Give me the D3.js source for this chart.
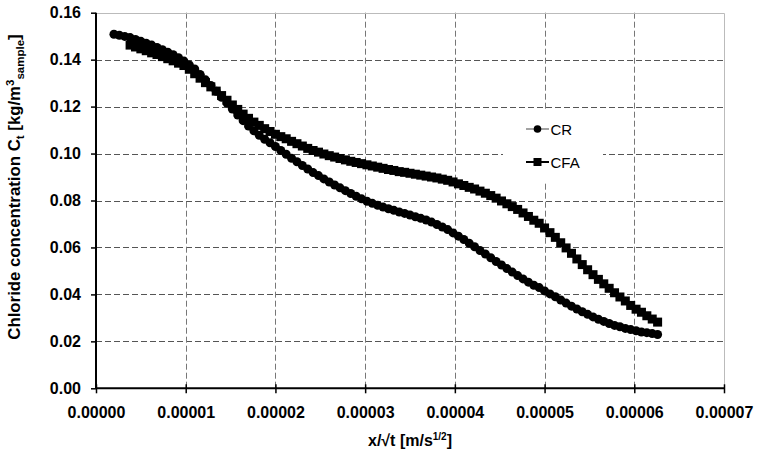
<!DOCTYPE html>
<html lang="en">
  <head>
    <meta charset="utf-8">
    <title>Chloride concentration</title>
    <style>
      body { margin: 0; background: #fff; }
      text { font-family: Arial, "Liberation Sans", sans-serif; }
    </style>
  </head>
  <body>
    <svg id="chart" width="758" height="453"></svg>
  </body>
  <script src="https://cdn.jsdelivr.net/npm/d3@7/dist/d3.min.js"></script>
  <script type="text/javascript">

    // x values are in units of 1e-6 m/s^1/2
    var crX = [2.0, 2.6, 3.2, 3.8, 4.4, 5.0, 5.6, 6.2, 6.8, 7.4, 8.0, 8.6, 9.2, 9.8, 10.4, 11.0, 11.6, 12.2, 12.8, 13.4,
      14.0, 14.6, 15.2, 15.8, 16.4, 17.0, 17.6, 18.2, 18.8, 19.4, 20.0, 20.6, 21.2, 21.8, 22.4, 23.0, 23.6, 24.2, 24.8, 25.4,
      26.0, 26.6, 27.2, 27.8, 28.4, 29.0, 29.6, 30.2, 30.8, 31.4, 32.0, 32.6, 33.2, 33.8, 34.4, 35.0, 35.6, 36.2, 36.8, 37.4,
      38.0, 38.6, 39.2, 39.8, 40.4, 41.0, 41.6, 42.2, 42.8, 43.4, 44.0, 44.6, 45.2, 45.8, 46.4, 47.0, 47.6, 48.2, 48.8, 49.4,
      50.0, 50.6, 51.2, 51.8, 52.4, 53.0, 53.6, 54.2, 54.8, 55.4, 56.0, 56.6, 57.2, 57.8, 58.4, 59.0, 59.6, 60.2, 60.8, 61.4,
      62.0, 62.6];
    var crY = [0.1508, 0.1504, 0.1499, 0.1494, 0.1486, 0.1478, 0.1470, 0.1462, 0.1452, 0.1442, 0.1432, 0.1421, 0.1408, 0.1394, 0.1377, 0.1360, 0.1337, 0.1314, 0.1290, 0.1265,
      0.1240, 0.1215, 0.1190, 0.1164, 0.1140, 0.1117, 0.1097, 0.1078, 0.1061, 0.1046, 0.1030, 0.1013, 0.0997, 0.0980, 0.0965, 0.0949, 0.0934, 0.0919, 0.0906, 0.0892,
      0.0879, 0.0866, 0.0854, 0.0842, 0.0830, 0.0818, 0.0807, 0.0797, 0.0788, 0.0780, 0.0772, 0.0765, 0.0758, 0.0751, 0.0745, 0.0738, 0.0731, 0.0724, 0.0717, 0.0708,
      0.0698, 0.0687, 0.0676, 0.0662, 0.0648, 0.0634, 0.0618, 0.0603, 0.0587, 0.0572, 0.0556, 0.0540, 0.0525, 0.0510, 0.0495, 0.0480, 0.0466, 0.0452, 0.0439, 0.0429,
      0.0415, 0.0402, 0.0390, 0.0376, 0.0363, 0.0350, 0.0338, 0.0326, 0.0315, 0.0304, 0.0294, 0.0285, 0.0276, 0.0268, 0.0262, 0.0255, 0.0250, 0.0245, 0.0240, 0.0237,
      0.0233, 0.0229];

    var cfaX = [3.8, 4.4, 5.0, 5.6, 6.2, 6.8, 7.4, 8.0, 8.6, 9.2, 9.8, 10.4, 11.0, 11.6, 12.2, 12.8, 13.4,
      14.0, 14.6, 15.2, 15.8, 16.4, 17.0, 17.6, 18.2, 18.8, 19.4, 20.0, 20.6, 21.2, 21.8, 22.4, 23.0, 23.6, 24.2, 24.8, 25.4,
      26.0, 26.6, 27.2, 27.8, 28.4, 29.0, 29.6, 30.2, 30.8, 31.4, 32.0, 32.6, 33.2, 33.8, 34.4, 35.0, 35.6, 36.2, 36.8, 37.4,
      38.0, 38.6, 39.2, 39.8, 40.4, 41.0, 41.6, 42.2, 42.8, 43.4, 44.0, 44.6, 45.2, 45.8, 46.4, 47.0, 47.6, 48.2, 48.8, 49.4,
      50.0, 50.6, 51.2, 51.8, 52.4, 53.0, 53.6, 54.2, 54.8, 55.4, 56.0, 56.6, 57.2, 57.8, 58.4, 59.0, 59.6, 60.2, 60.8, 61.4,
      62.0, 62.6];
    var cfaY = [0.1462, 0.1454, 0.1446, 0.1438, 0.1429, 0.1422, 0.1413, 0.1404, 0.1395, 0.1385, 0.1375, 0.1359, 0.1340, 0.1321, 0.1302, 0.1284, 0.1266,
      0.1247, 0.1227, 0.1207, 0.1188, 0.1168, 0.1150, 0.1134, 0.1120, 0.1106, 0.1094, 0.1082, 0.1072, 0.1063, 0.1052, 0.1042, 0.1032, 0.1022, 0.1013, 0.1006, 0.0998,
      0.0991, 0.0985, 0.0979, 0.0973, 0.0967, 0.0962, 0.0957, 0.0952, 0.0947, 0.0942, 0.0937, 0.0932, 0.0928, 0.0923, 0.0920, 0.0916, 0.0912, 0.0908, 0.0904, 0.0900,
      0.0896, 0.0891, 0.0886, 0.0879, 0.0871, 0.0864, 0.0856, 0.0849, 0.0840, 0.0831, 0.0821, 0.0810, 0.0798, 0.0786, 0.0774, 0.0762, 0.0747, 0.0732, 0.0716, 0.0703,
      0.0683, 0.0663, 0.0643, 0.0620, 0.0598, 0.0575, 0.0551, 0.0527, 0.0505, 0.0484, 0.0464, 0.0445, 0.0426, 0.0407, 0.0389, 0.0372, 0.0353, 0.0337, 0.0324, 0.0309,
      0.0295, 0.0282];

    var xTicks = [0, 0.00001, 0.00002, 0.00003, 0.00004, 0.00005, 0.00006, 0.00007];
    var yTicks = [0, 0.02, 0.04, 0.06, 0.08, 0.10, 0.12, 0.14, 0.16];
    var seriesNames = ['CR', 'CFA'];

    var svg = d3.select('#chart');
    // plot box (top/left etc. clash with window globals, so prefixed)
    var pLeft = 96, pRight = 724, pTop = 12.7, pBottom = 388.3;

    var x = d3.scaleLinear().domain([0, 0.00007]).range([pLeft, pRight]);
    var y = d3.scaleLinear().domain([0, 0.16]).range([pBottom, pTop]);

    function toPoints(xs, ys) {
      return xs.map(function(v, i) { return [v * 1e-6, ys[i]]; });
    }
    var cr = toPoints(crX, crY);
    var cfa = toPoints(cfaX, cfaY);

    // grid
    var grid = svg.append('g');
    grid.selectAll('line.h').data(yTicks.slice(1, -1)).enter().append('line')
      .attr('x1', pLeft).attr('x2', pRight)
      .attr('y1', function(d) { return Math.round(y(d)) + 0.5; })
      .attr('y2', function(d) { return Math.round(y(d)) + 0.5; })
      .attr('stroke', '#555').attr('stroke-dasharray', '6,3');
    grid.selectAll('line.v').data(xTicks.slice(1, -1)).enter().append('line')
      .attr('y1', pTop).attr('y2', pBottom)
      .attr('x1', function(d) { return Math.round(x(d)) + 0.5; })
      .attr('x2', function(d) { return Math.round(x(d)) + 0.5; })
      .attr('stroke', '#777').attr('stroke-dasharray', '6,3');

    // plot border top / right
    svg.append('path')
      .attr('d', 'M' + pLeft + ',' + (Math.round(pTop) + 0.5) + 'H' + (pRight + 0.5) + 'V' + pBottom)
      .attr('fill', 'none').attr('stroke', '#bbb');

    // legend background
    svg.append('rect').attr('x', 503).attr('y', 110).attr('width', 100).attr('height', 72).attr('fill', '#fff');

    // series
    var line = d3.line().x(function(d) { return x(d[0]); }).y(function(d) { return y(d[1]); });
    svg.append('path').datum(cr).attr('d', line).attr('fill', 'none').attr('stroke', '#000').attr('stroke-width', 1);
    svg.append('path').datum(cfa).attr('d', line).attr('fill', 'none').attr('stroke', '#000').attr('stroke-width', 1.5);

    svg.append('g').selectAll('circle').data(cr).enter().append('circle')
      .attr('cx', function(d) { return x(d[0]); })
      .attr('cy', function(d) { return y(d[1]); })
      .attr('r', 4.5).attr('fill', '#000');
    var sq = 9;
    svg.append('g').selectAll('rect').data(cfa).enter().append('rect')
      .attr('x', function(d) { return x(d[0]) - sq / 2; })
      .attr('y', function(d) { return y(d[1]) - sq / 2; })
      .attr('width', sq).attr('height', sq).attr('fill', '#000');

    // axes
    var yAxis = d3.axisLeft(y).tickValues(yTicks).tickFormat(d3.format('.2f')).tickSize(5).tickPadding(10);
    var xAxis = d3.axisBottom(x).tickValues(xTicks).tickFormat(d3.format('.5f')).tickSize(5).tickPadding(13);

    var gy = svg.append('g').attr('transform', 'translate(' + pLeft + ',0)').call(yAxis);
    var gx = svg.append('g').attr('transform', 'translate(0,' + pBottom + ')').call(xAxis);
    [gx, gy].forEach(function(g) {
      g.select('.domain').attr('stroke', '#000').attr('stroke-width', 2);
      g.selectAll('.tick line').attr('stroke', '#000').attr('stroke-width', 1.5);
      g.selectAll('.tick text').attr('fill', '#000')
        .style('font-family', 'Arial, "Liberation Sans", sans-serif')
        .style('font-size', '16px').style('font-weight', 'bold');
    });
    gx.selectAll('.tick line').attr('y1', -4);
    gx.select('.domain').attr('d', 'M' + pLeft + ',0H' + pRight);
    gy.select('.domain').attr('d', 'M0,' + pBottom + 'V' + pTop);

    // axis titles
    var yt = svg.append('text')
      .attr('transform', 'translate(20,187) rotate(-90)')
      .attr('text-anchor', 'middle')
      .style('font-size', '16.8px').style('font-weight', 'bold');
    yt.append('tspan').text('Chloride concentration C');
    yt.append('tspan').attr('dy', 4).style('font-size', '11.5px').text('t');
    yt.append('tspan').attr('dy', -4).text('  [kg/m');
    yt.append('tspan').attr('dy', -6).style('font-size', '11.5px').text('3');
    yt.append('tspan').attr('dy', 10).style('font-size', '11.5px').text('sample');
    yt.append('tspan').attr('dy', -4).text(']');

    var xt = svg.append('text')
      .attr('x', 410).attr('y', 446)
      .attr('text-anchor', 'middle')
      .style('font-size', '16px').style('font-weight', 'bold');
    xt.append('tspan').text('x/\u221At [m/s');
    xt.append('tspan').attr('dy', -6).style('font-size', '10px').text('1/2');
    xt.append('tspan').attr('dy', 6).text(']');

    // legend
    var legend = svg.append('g');
    var legY = [129, 162];
    seriesNames.forEach(function(name, i) {
      var g = legend.append('g').attr('transform', 'translate(0,' + legY[i] + ')');
      g.append('line').attr('x1', 526).attr('x2', 549).attr('y1', 0).attr('y2', 0)
        .attr('stroke', i == 0 ? '#666' : '#000').attr('stroke-width', i == 0 ? 1.2 : 2);
      if (i == 0) {
        g.append('circle').attr('cx', 537.5).attr('cy', 0).attr('r', 3.8).attr('fill', '#000');
      } else {
        g.append('rect').attr('x', 533.5).attr('y', -4).attr('width', 8).attr('height', 8).attr('fill', '#000');
      }
      g.append('text').attr('x', 550.5).attr('y', 5.5).style('font-size', '15px').text(name);
    });

  </script>
</html>
